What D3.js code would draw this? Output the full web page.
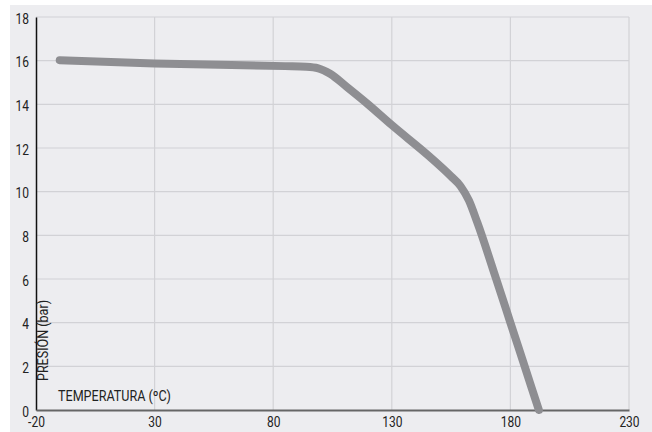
<!DOCTYPE html>
<html><head><meta charset="utf-8">
<script src="https://cdn.jsdelivr.net/npm/d3@7"></script>
<style>
html,body{margin:0;padding:0;background:#fff;}
svg{display:block;}
text{font-family:Roboto,"Liberation Sans",sans-serif;fill:#222;}
</style></head><body>
<svg id="c" width="652" height="432"></svg>
<script>
const temps = [-10, 30, 85, 94, 99, 104, 111, 120, 130, 146, 155, 159, 162.5, 166, 174, 180, 186, 192];
const pressures = [16.02, 15.87, 15.75, 15.72, 15.65, 15.4, 14.8, 14.0, 13.05, 11.6, 10.7, 10.25, 9.6, 8.6, 6, 4, 2, 0];
const xTicks = [-20, 30, 80, 130, 180, 230];
const yTicks = [0, 2, 4, 6, 8, 10, 12, 14, 16, 18];
const xLabel = "TEMPERATURA (ºC)";
const yLabel = "PRESIÓN (bar)";

const svg = d3.select("#c");
svg.append("rect").attr("x",10).attr("y",5).attr("width",642).attr("height",427).attr("fill","#ededf0");

const x = d3.scaleLinear().domain([-20,230]).range([36,629]);
const y = d3.scaleLinear().domain([0,18]).range([410,17]);
const SX = 0.8;

const g = svg.append("g");
g.selectAll("line.hg").data(yTicks.slice(1)).join("line")
  .attr("x1",x(-20)).attr("x2",x(230)).attr("y1",d=>y(d)).attr("y2",d=>y(d))
  .attr("stroke","#d2d2d6").attr("stroke-width",1.2);
g.selectAll("line.vg").data(xTicks.slice(1)).join("line")
  .attr("y1",y(0)).attr("y2",y(18)).attr("x1",d=>x(d)).attr("x2",d=>x(d))
  .attr("stroke","#d2d2d6").attr("stroke-width",1.2);

const yAxis = d3.axisLeft(y).tickValues(yTicks).tickSize(0).tickPadding(7).tickFormat(d=>String(d));
const ya = svg.append("g").attr("transform",`translate(${x(-20)},0)`).call(yAxis);
ya.select(".domain").attr("stroke","#111").attr("stroke-width",1.5);
ya.selectAll("text").attr("font-size",15).attr("font-family",null).attr("fill","#222")
  .attr("x",-7/SX).attr("dy","0.4em").attr("transform",`scale(${SX},1)`);

const xAxis = d3.axisBottom(x).tickValues(xTicks).tickSize(0).tickPadding(6).tickFormat(d=>String(d));
const xa = svg.append("g").attr("transform",`translate(0,${y(0)})`).call(xAxis);
xa.select(".domain").attr("stroke","#666").attr("stroke-width",2);
xa.selectAll("text").attr("font-size",15).attr("font-family",null).attr("fill","#222")
  .attr("transform",`scale(${SX},1)`);

const line = d3.line().x((d,i)=>x(temps[i])).y(d=>y(d)).curve(d3.curveMonotoneX);
svg.append("path").attr("d",line(pressures)).attr("fill","none")
  .attr("stroke","#8e8e92").attr("stroke-width",8).attr("stroke-linecap","round").attr("stroke-linejoin","round");

svg.append("text").attr("x",58).attr("y",401).attr("font-size",14.5)
  .attr("textLength",113).attr("lengthAdjust","spacingAndGlyphs").text(xLabel);
svg.append("text").attr("transform","translate(48,381) rotate(-90)").attr("font-size",14)
  .attr("textLength",81).attr("lengthAdjust","spacingAndGlyphs").text(yLabel);
</script>
</body></html>
